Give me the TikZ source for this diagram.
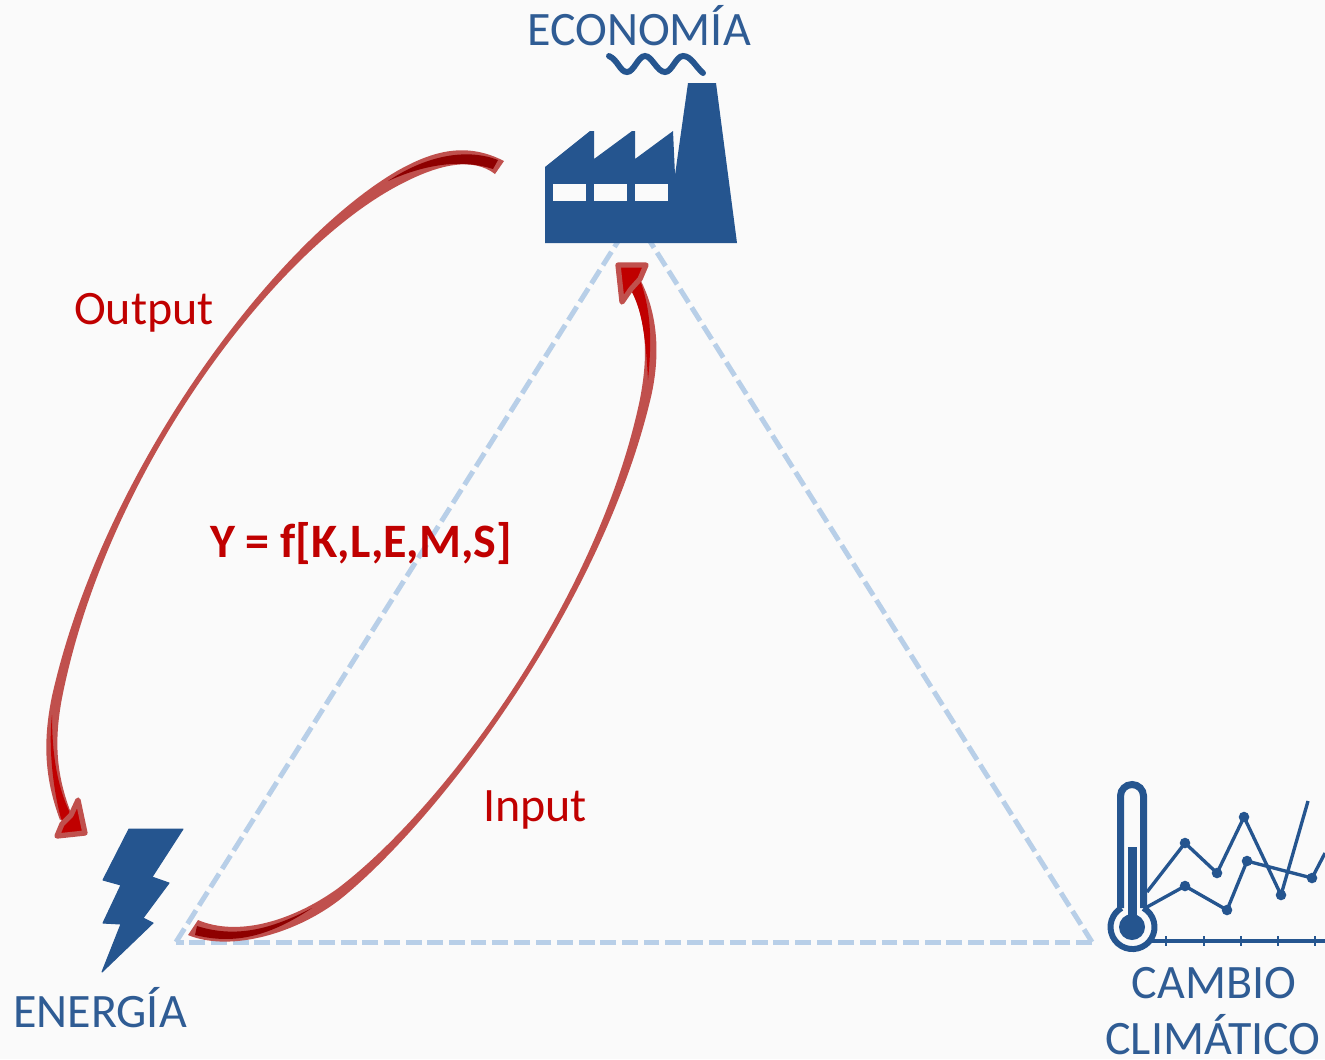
\documentclass[tikz,border=0pt]{standalone}
\usepackage{fontspec}
\setmainfont{Carlito}
\usetikzlibrary{positioning}
\definecolor{iconblue}{HTML}{25558F}
\definecolor{labelblue}{HTML}{2F5C94}
\definecolor{dashblue}{HTML}{B8CFE8}
\definecolor{flowred}{HTML}{C0504D}
\definecolor{corered}{HTML}{C00000}
\definecolor{tailred}{HTML}{8E0000}
\tikzset{
  base/.style={inner sep=0pt,anchor=base,font=\fontsize{13.65pt}{16pt}\selectfont},
  corner/.style={base,labelblue},
  flowtext/.style={base,corered},
  side/.style={draw=dashblue,line width=1.42pt,dash pattern=on 4.5pt off 1.65pt},
  flow/.style={fill=flowred,draw=none},
  flowhead/.style={draw=flowred,fill=corered,line width=1.5pt,line join=round},
  icon/.style={fill=iconblue,draw=none},
  curve/.style={draw=iconblue,line width=.95pt}
}
\begin{document}
\begin{tikzpicture}[x=0.01cm,y=-0.01cm]
  \fill[white!98!black] (0,0) rectangle (1325,1059);
  \useasboundingbox (0,0) rectangle (1325,1059);

  \coordinate (ene) at (176,942);
  \coordinate (eco) at (634,216);
  \coordinate (cli) at (1092,942);
  \draw[side] (ene) -- (eco);
  \draw[side] (eco) -- (cli);
  \draw[side] (cli) -- (ene);

  % factory
  \fill[icon] (545,243) -- (545,167) -- (590,131) -- (594,131) -- (594,159) -- (632,131) -- (635,131)
    -- (635,159) -- (673,131) -- (675,175) -- (688,83) -- (716,83) -- (737,243) -- cycle;
  \foreach \x in {553,594,635}
    \fill[white!98!black] (\x,184) rectangle ++(33,17);
  \draw[iconblue,line width=1.7pt,line cap=round] (609,56) .. controls (618,60) and (620,72) .. (627,72)
    .. controls (634,72) and (638,56) .. (645,56) .. controls (652,56) and (657,72) .. (665,72)
    .. controls (672,72) and (676,56) .. (683,56) .. controls (691,56) and (695,66) .. (703,73);

  % bolt
  \fill[icon,draw=iconblue,line width=.3pt,line join=round] (129,829) -- (183,829) -- (152,877) -- (169,883) -- (143,918) -- (153,923)
    -- (102,972) -- (121,924) -- (103,923) -- (121,885) -- (103,880) -- cycle;

  % thermometer and chart
  \draw[iconblue,line width=2pt] (1120.5,908) -- (1120.5,796) arc[start angle=180,end angle=360,radius=11.5] -- (1143.5,908);
  \draw[iconblue,line width=1.7pt] (1143.5,908) arc[start angle=-60,end angle=240,radius=22];
  \fill[icon] (1128,847) rectangle (1137,920);
  \fill[icon] (1132,927) circle (13);
  \draw[curve] (1150,941) -- (1325,941);
  \foreach \x in {1166,1204,1241,1278,1315}
    \draw[iconblue,line width=.45pt] (\x,936) -- (\x,946);
  \draw[curve] (1147,892) -- (1185,843) -- (1217,873) -- (1244,817) -- (1281,895) -- (1308,801);
  \draw[curve] (1147,907) -- (1185,886) -- (1227,910) -- (1247,861) -- (1312,878) -- (1325,853);
  \foreach \x/\y in {1185/843,1217/873,1244/817,1281/895,1185/886,1227/910,1247/861,1312/878}
    \fill[icon] (\x,\y) circle (5.3);

  % output arrow
  \fill[flow] (504,161) .. controls (467,142) and (434,150) .. (397,171)
    .. controls (274,243) and (103,470) .. (52,696) .. controls (43,740) and (44,777) .. (60,820)
    -- (71,813) .. controls (56,774) and (54,741) .. (62,698)
    .. controls (107,470) and (276,247) .. (403,183) .. controls (440,164) and (473,157) .. (495,174) -- cycle;
  \fill[tailred] (498,160) .. controls (470,149) and (430,153) .. (388,181)
    .. controls (430,162) and (465,160) .. (493,169) -- cycle;
  \fill[corered] (52,715) .. controls (52,750) and (56,785) .. (71,815) -- (62,822)
    .. controls (54,795) and (48,750) .. (52,715) -- cycle;
  \path[flowhead] (57,836) -- (85,833) -- (78,800) -- (71,815) -- (62,824) -- cycle;

  % input arrow
  \fill[flow] (198,920) .. controls (238,937) and (292,921) .. (337,889)
    .. controls (444,808) and (598,600) .. (640,399) .. controls (646,367) and (650,327) .. (631,290)
    -- (641,281) .. controls (662,323) and (658,369) .. (650,401)
    .. controls (602,600) and (446,812) .. (343,897) .. controls (300,932) and (232,953) .. (188,935) -- cycle;
  \fill[tailred] (197,926) .. controls (235,938) and (270,930) .. (312,908)
    .. controls (270,936) and (235,945) .. (195,935) -- cycle;
  \fill[corered] (648,380) .. controls (652,340) and (651,310) .. (640,280) -- (632,292)
    .. controls (642,310) and (646,340) .. (648,380) -- cycle;
  \path[flowhead] (618,265) -- (646,265) -- (640,279) -- (631,289) -- (622,302) -- cycle;

  \node[corner] (economia) at (639,45) {ECONOMÍA};
  \node[corner] (energia) at (100,1027) {ENERGÍA};
  \node[corner] (cambio) at (1214,998) {CAMBIO};
  \node[corner] (climatico) at (1213,1054) {CLIMÁTICO};
  \node[flowtext] (output) at (144,324) {Output};
  \node[flowtext] (input) at (535,821) {Input};
  \node[flowtext] (prod) at (361,557) {\textbf{Y = f[K,L,E,M,S]}};
\end{tikzpicture}
\end{document}
